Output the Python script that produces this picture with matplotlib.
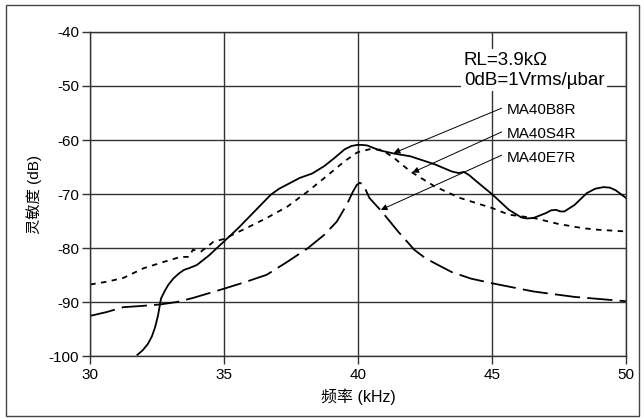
import matplotlib

matplotlib.use("Agg")
import matplotlib.pyplot as plt
from matplotlib.patches import Rectangle

plt.rcParams["font.family"] = ["Liberation Sans", "Noto Sans CJK SC", "DejaVu Sans"]
plt.rcParams["axes.unicode_minus"] = False

# MA40B8R (solid)
b8r_f = [31.76, 31.95, 32.15, 32.3, 32.42, 32.53, 32.64, 32.78, 32.91, 33.1,
         33.3, 33.5, 33.68, 33.98, 34.44,
         34.98, 35.52, 36.13, 36.74, 37.05, 37.36, 37.82, 38.28, 38.74, 39.12, 39.5,
         39.75, 39.96, 40.15, 40.34, 40.8, 41.34, 41.95, 42.87, 43.49, 43.75, 43.95, 44.15,
         44.41, 45.02, 45.63, 46.09, 46.3, 46.55, 47.01, 47.2, 47.39, 47.55, 47.7, 48.08,
         48.54, 48.85, 49.16, 49.4, 49.62, 50.0]
b8r_db = [-99.7, -98.9, -97.7, -96.3, -94.6, -92.4, -89.3, -87.9, -86.8, -85.6,
          -84.7, -84.0, -83.7, -83.1, -81.3,
          -78.8, -76.3, -73.2, -70.1, -69.0, -68.2, -67.0, -66.2, -64.8, -63.3, -61.7,
          -61.1, -60.9, -60.9, -61.0, -61.9, -62.5, -63.0, -64.5, -65.8, -66.1, -65.9, -66.5,
          -67.6, -70.1, -72.9, -74.3, -74.5, -74.4, -73.5, -73.0, -72.9, -73.2, -73.2, -72.0,
          -69.8, -69.0, -68.7, -68.8, -69.3, -70.7]

# MA40S4R (short dash)
s4r_f = [30.0, 30.61, 31.23, 31.99, 32.76, 33.37, 33.68, 33.83, 34.14, 34.6,
         34.98, 35.82, 36.59, 37.36, 38.12, 38.89, 39.5, 39.96, 40.42, 40.88,
         41.34, 41.95, 42.87, 43.8, 45.02, 45.63, 46.55, 47.47, 48.39, 49.0, 50.0]
s4r_db = [-86.7, -86.2, -85.5, -83.7, -82.5, -81.6, -81.6, -80.3, -80.6, -78.8,
          -78.3, -76.3, -74.4, -72.3, -69.5, -66.4, -63.9, -62.3, -61.7, -61.8,
          -63.3, -65.8, -68.6, -70.7, -72.6, -73.8, -74.4, -75.5, -76.3, -76.6, -76.9]

# MA40E7R (long dash)
e7r_f = [30.0, 30.61, 31.23, 31.84, 32.6, 33.22, 33.83, 34.98, 35.82, 36.59,
         37.36, 38.12, 38.74, 39.2, 39.58, 39.8, 39.95, 40.06, 40.19, 40.42, 40.88,
         41.49, 42.1, 42.5, 42.87, 43.49, 44.2, 45.02, 46.55, 48.08, 50.0]
e7r_db = [-92.5, -91.8, -90.9, -90.7, -90.4, -89.95, -89.2, -87.5, -86.2, -84.9,
          -82.5, -80.0, -77.5, -75.1, -71.9, -69.6, -68.3, -67.9, -68.2, -70.7, -73.2,
          -76.9, -80.3, -81.8, -82.8, -84.4, -85.6, -86.5, -88.0, -89.0, -89.8]

labels = ["MA40B8R", "MA40S4R", "MA40E7R"]
label_y = [-54.4, -58.8, -63.4]
arrow_start = [(45.36, -54.1), (45.36, -58.5), (45.36, -62.8)]
arrow_end = [(41.33, -62.4), (42.03, -66.0), (40.85, -72.9)]

xticks = [30, 35, 40, 45, 50]
yticks = [-40, -50, -60, -70, -80, -90, -100]

fig = plt.figure(figsize=(6.44, 4.19), dpi=100)
fig.patches.append(Rectangle((0.009, 0.008), 0.984, 0.98, transform=fig.transFigure,
                             fill=False, edgecolor="#444444", lw=1.0))
ax = fig.add_axes([0.1402, 0.1494, 0.8318, 0.7745])

ax.plot(b8r_f, b8r_db, color="black", lw=1.3)
ax.plot(s4r_f, s4r_db, color="black", lw=1.3, dashes=(3, 3))
ax.plot(e7r_f, e7r_db, color="black", lw=1.3, dashes=(14, 4))

ax.set_xlim(30, 50)
ax.set_ylim(-100, -40)
ax.set_xticks(xticks)
ax.set_yticks(yticks)
ax.grid(True, color="#333333", lw=1.0)
ax.set_axisbelow(True)
for s in ax.spines.values():
    s.set_linewidth(1.0)
    s.set_color("#333333")
ax.tick_params(direction="out", length=6, width=1.0, color="#333333", labelsize=11,
               pad=2)

ax.set_xlabel("频率 (kHz)", fontsize=11.5, labelpad=5)
ax.set_ylabel("灵敏度 (dB)", fontsize=11, labelpad=5)

ax.text(43.95, -47.1, "RL=3.9kΩ\n0dB=1Vrms/µbar", fontsize=13.5, va="center",
        ha="left", linespacing=1.2,
        bbox=dict(facecolor="white", edgecolor="none", pad=2))

for name, ly, st, en in zip(labels, label_y, arrow_start, arrow_end):
    ax.text(45.56, ly, name, fontsize=11, va="center", ha="left")
    ax.annotate("", xy=en, xytext=st,
                arrowprops=dict(arrowstyle="-|>", color="black", lw=0.7,
                                mutation_scale=9, shrinkA=0, shrinkB=0))

fig.savefig("out.png", dpi=100)
